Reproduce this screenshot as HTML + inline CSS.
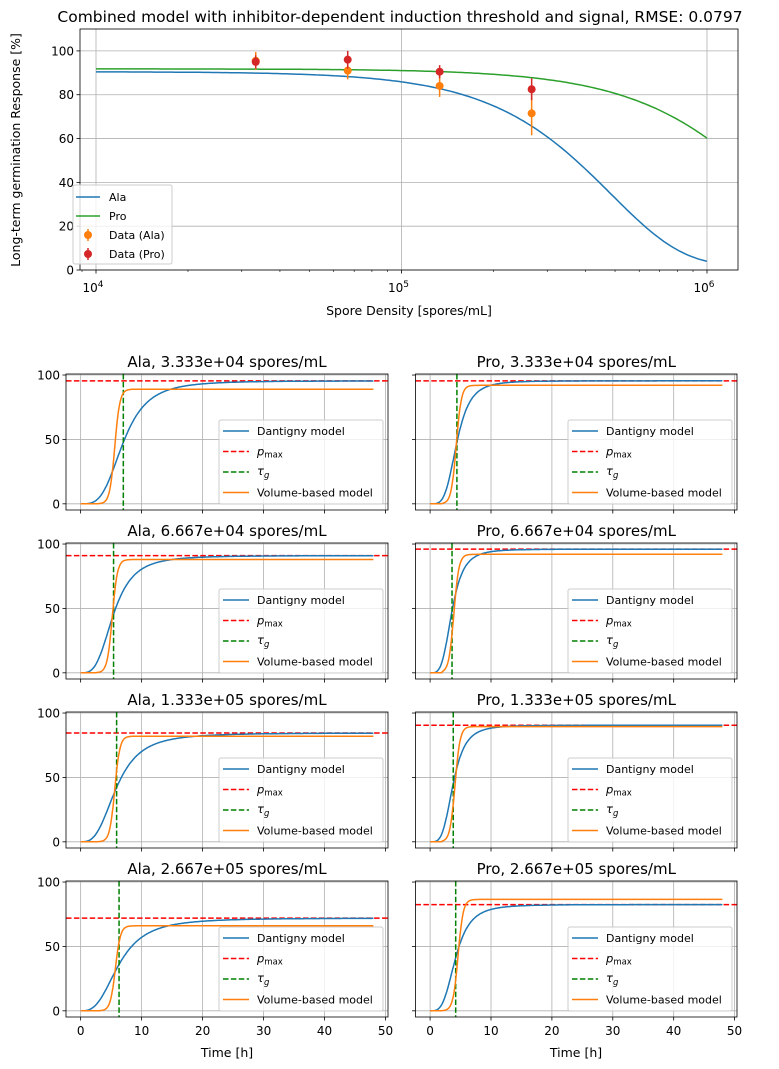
<!DOCTYPE html>
<html><head><meta charset="utf-8"><style>
html,body{margin:0;padding:0;background:#fff;}
svg{display:block;font-family:"DejaVu Sans","Liberation Sans",sans-serif;}
</style></head><body>
<svg id="fig" width="779" height="1069" viewBox="0 0 779 1069" xmlns="http://www.w3.org/2000/svg"></svg>
<script>
// ---- Top chart data ----
const densities = [3.333e4, 6.667e4, 1.333e5, 2.667e5];
const alaData = [95.5, 91, 84, 71.5];
const alaErr = [4, 4, 5, 10];
const proData = [95, 96, 90.5, 82.5];
const proErr = [3, 4, 3, 5];
const alaFit = [90.5, 4.86e5, 1.85, 2]; // plateau, K, n, floor
const proFit = [91.8, 1.66e6, 1.7, 0];
const topYTicks = [0, 20, 40, 60, 80, 100];
// ---- Subplot data ----
const panelTitles = ["Ala, 3.333e+04 spores/mL","Pro, 3.333e+04 spores/mL","Ala, 6.667e+04 spores/mL","Pro, 6.667e+04 spores/mL","Ala, 1.333e+05 spores/mL","Pro, 1.333e+05 spores/mL","Ala, 2.667e+05 spores/mL","Pro, 2.667e+05 spores/mL"];
const pmax = [95.5, 95.5, 91, 96, 84.5, 90.5, 72, 82.5];
const tauG = [7.0, 4.4, 5.4, 3.6, 5.9, 3.8, 6.3, 4.2];
const dShape = [3.5, 4.0, 3.3, 3.8, 3.0, 3.8, 2.9, 3.5];
const volPlateau = [89, 92, 88, 92, 82, 89.5, 66, 86.5];
const volMid = [5.6, 4.3, 5.2, 3.9, 5.6, 4.1, 5.7, 4.6];
const timeTicks = [0, 10, 20, 30, 40, 50];
const subYTicks = [0, 50, 100];

const NS="http://www.w3.org/2000/svg";
const svg=document.getElementById('fig');
function mk(tag,attrs,parent){const e=document.createElementNS(NS,tag);for(const k in attrs)e.setAttribute(k,attrs[k]);(parent||svg).appendChild(e);return e;}
function txt(s,x,y,size,anchor,parent){const t=mk('text',{x:x,y:y,'font-size':size,'text-anchor':anchor||'middle',fill:'#000'},parent);t.textContent=s;return t;}

// ===== Top chart =====
const T={l:80,r:738,t:29,b:270};
const lx0=4-16/305.5, lx1=6+31/305.5;
function tx(v){return T.l+(Math.log10(v)-lx0)/(lx1-lx0)*(T.r-T.l);}
function ty(v){return T.b-(v/110)*(T.b-T.t);}
const topG=mk('g',{});


let t0=txt("Combined model with inhibitor-dependent induction threshold and signal, RMSE: 0.0797",400,22,15.5,'middle',topG);

[1e4,1e5,1e6].forEach(v=>mk('line',{x1:tx(v),x2:tx(v),y1:T.t,y2:T.b,stroke:'#b0b0b0','stroke-width':0.8},topG));
topYTicks.forEach(v=>{mk('line',{x1:T.l,x2:T.r,y1:ty(v),y2:ty(v),stroke:'#b0b0b0','stroke-width':0.8},topG);
 mk('line',{x1:T.l-3.5,x2:T.l,y1:ty(v),y2:ty(v),stroke:'#000','stroke-width':0.8},topG);
 txt(String(v),T.l-6,ty(v)+4.5,12,'end',topG);});
for(let e=3;e<=6;e++)for(let m=2;m<=9;m++){const v=m*Math.pow(10,e);const x=tx(v);if(x>T.l&&x<T.r)mk('line',{x1:x,x2:x,y1:T.b,y2:T.b+2,stroke:'#000','stroke-width':0.6},topG);}
[[1e4,'4'],[1e5,'5'],[1e6,'6']].forEach(([v,e])=>{const x=tx(v);mk('line',{x1:x,x2:x,y1:T.b,y2:T.b+3.5,stroke:'#000','stroke-width':0.8},topG);
 const t=txt('10',x-3,T.b+22,12,'middle',topG);const s=mk('tspan',{dy:-5,'font-size':9},t);s.textContent=e;});
function decay(f,x){return f[3]+(f[0]-f[3])*Math.exp(-Math.pow(x/f[1],f[2]));}
function fitPath(f){let d='';for(let i=0;i<=200;i++){const x=Math.pow(10,4+2*i/200);d+=(i?'L':'M')+tx(x).toFixed(1)+','+ty(decay(f,x)).toFixed(1);}return d;}
let pa=mk('path',{d:fitPath(alaFit),fill:'none',stroke:'#1f77b4','stroke-width':1.5},topG);

let pp=mk('path',{d:fitPath(proFit),fill:'none',stroke:'#2ca02c','stroke-width':1.5},topG);

function errPts(vals,errs,color,name){densities.forEach((d,i)=>{const g=mk('g',{},topG);
 
 mk('line',{x1:tx(d),x2:tx(d),y1:ty(vals[i]-errs[i]),y2:ty(vals[i]+errs[i]),stroke:color,'stroke-width':1.5},g);
 mk('circle',{cx:tx(d),cy:ty(vals[i]),r:4,fill:color},g);});}
errPts(alaData,alaErr,'#ff7f0e','ala-data');
errPts(proData,proErr,'#d62728','pro-data');
mk('rect',{x:T.l,y:T.t,width:T.r-T.l,height:T.b-T.t,fill:'none',stroke:'#000','stroke-width':0.8},topG);
const lg=mk('g',{},topG);
mk('rect',{x:73,y:185,width:99,height:79,rx:2,fill:'#fff','fill-opacity':0.8,stroke:'#ccc'},lg);
const li=[['Ala','line','#1f77b4'],['Pro','line','#2ca02c'],['Data (Ala)','pt','#ff7f0e'],['Data (Pro)','pt','#d62728']];
li.forEach((it,i)=>{const y=197+i*19;
 if(it[1]=='line')mk('line',{x1:76,x2:100,y1:y,y2:y,stroke:it[2],'stroke-width':1.5},lg);
 else{mk('line',{x1:88,x2:88,y1:y-6,y2:y+6,stroke:it[2],'stroke-width':1.5},lg);mk('circle',{cx:88,cy:y,r:4,fill:it[2]},lg);}
 txt(it[0],109,y+4,11,'start',lg);});
txt('Spore Density [spores/mL]',409,315,12.5,'middle',topG);
const yl=txt('Long-term germination Response [%]',0,0,12.5,'middle',topG);yl.setAttribute('transform','translate(20,150) rotate(-90)');

// ===== Subplots =====
const cols=[{l:66,r:388},{l:415.5,r:737}];
const tops=[374,543,712,881];const H=136;
const YMIN=-4.8,YMAX=100.8,XMIN=-2.4,XMAX=50.4;
for(let p=0;p<8;p++){
 const c=cols[p%2],tp=tops[Math.floor(p/2)],bt=tp+H;
 const sx=v=>c.l+(v-XMIN)/(XMAX-XMIN)*(c.r-c.l);
 const sy=v=>bt-(v-YMIN)/(YMAX-YMIN)*H;
 const g=mk('g',{});
 
 
 txt(panelTitles[p],(c.l+c.r)/2,tp-7,15,'middle',g);
 timeTicks.forEach(v=>{mk('line',{x1:sx(v),x2:sx(v),y1:tp,y2:bt,stroke:'#b0b0b0','stroke-width':0.8},g);
  mk('line',{x1:sx(v),x2:sx(v),y1:bt,y2:bt+3.5,stroke:'#000','stroke-width':0.8},g);
  if(p>=6)txt(String(v),sx(v),bt+18,12,'middle',g);});
 subYTicks.forEach(v=>{mk('line',{x1:c.l,x2:c.r,y1:sy(v),y2:sy(v),stroke:'#b0b0b0','stroke-width':0.8},g);
  mk('line',{x1:c.l-3.5,x2:c.l,y1:sy(v),y2:sy(v),stroke:'#000','stroke-width':0.8},g);
  if(p%2==0)txt(String(v),c.l-6,sy(v)+4.5,12,'end',g);});
 let dd='',vd='';
 for(let i=0;i<=480;i++){const t=48*i/480;
  const dv=pmax[p]*(t<=0?0:1-1/(1+Math.pow(t/tauG[p],dShape[p])));
  const vv=volPlateau[p]/(1+Math.exp(-(t-volMid[p])/0.42))*(t<2?0:1);
  dd+=(i?'L':'M')+sx(t).toFixed(1)+','+sy(dv).toFixed(1);
  vd+=(i?'L':'M')+sx(t).toFixed(1)+','+sy(vv).toFixed(1);}
 const pm=mk('line',{x1:c.l,x2:c.r,y1:sy(pmax[p]),y2:sy(pmax[p]),stroke:'#ff0000','stroke-width':1.5,'stroke-dasharray':'5.5,2.4'},g);
 
 const dl=mk('path',{d:dd,fill:'none',stroke:'#1f77b4','stroke-width':1.5},g);
 
 const tg=mk('line',{x1:sx(tauG[p]),x2:sx(tauG[p]),y1:tp,y2:bt,stroke:'#008000','stroke-width':1.5,'stroke-dasharray':'5.5,2.4'},g);
 
 const vl=mk('path',{d:vd,fill:'none',stroke:'#ff7f0e','stroke-width':1.5},g);
 
 mk('rect',{x:c.l,y:tp,width:c.r-c.l,height:H,fill:'none',stroke:'#000','stroke-width':0.8},g);
 const L=mk('g',{},g);
 const lxp=c.r-169, lyp=tp+46;
 mk('rect',{x:lxp,y:lyp,width:164,height:84,rx:2,fill:'#fff','fill-opacity':0.8,stroke:'#ccc'},L);
 const items=[['#1f77b4',null,'Dantigny model'],['#ff0000','5.5,2.4','p'],['#008000','5.5,2.4','t'],['#ff7f0e',null,'Volume-based model']];
 items.forEach((it,i)=>{const y=lyp+11+i*20.5;
  const a={x1:lxp+4,x2:lxp+30,y1:y,y2:y,stroke:it[0],'stroke-width':1.5};if(it[1])a['stroke-dasharray']=it[1];mk('line',a,L);
  if(it[2]=='p'){const t=txt('',lxp+38,y+4,11.5,'start',L);const s1=mk('tspan',{'font-style':'italic'},t);s1.textContent='p';const s2=mk('tspan',{'font-size':8.5,dy:2},t);s2.textContent='max';}
  else if(it[2]=='t'){const t=txt('',lxp+38,y+3,11.5,'start',L);const s1=mk('tspan',{'font-style':'italic'},t);s1.textContent='τ';const s2=mk('tspan',{'font-size':8.5,dy:3,'font-style':'italic'},t);s2.textContent='g';}
  else txt(it[2],lxp+38,y+4,11,'start',L);});
}
txt('Time [h]',227,1057,12.5,'middle');
txt('Time [h]',576,1057,12.5,'middle');
</script>
</body></html>
